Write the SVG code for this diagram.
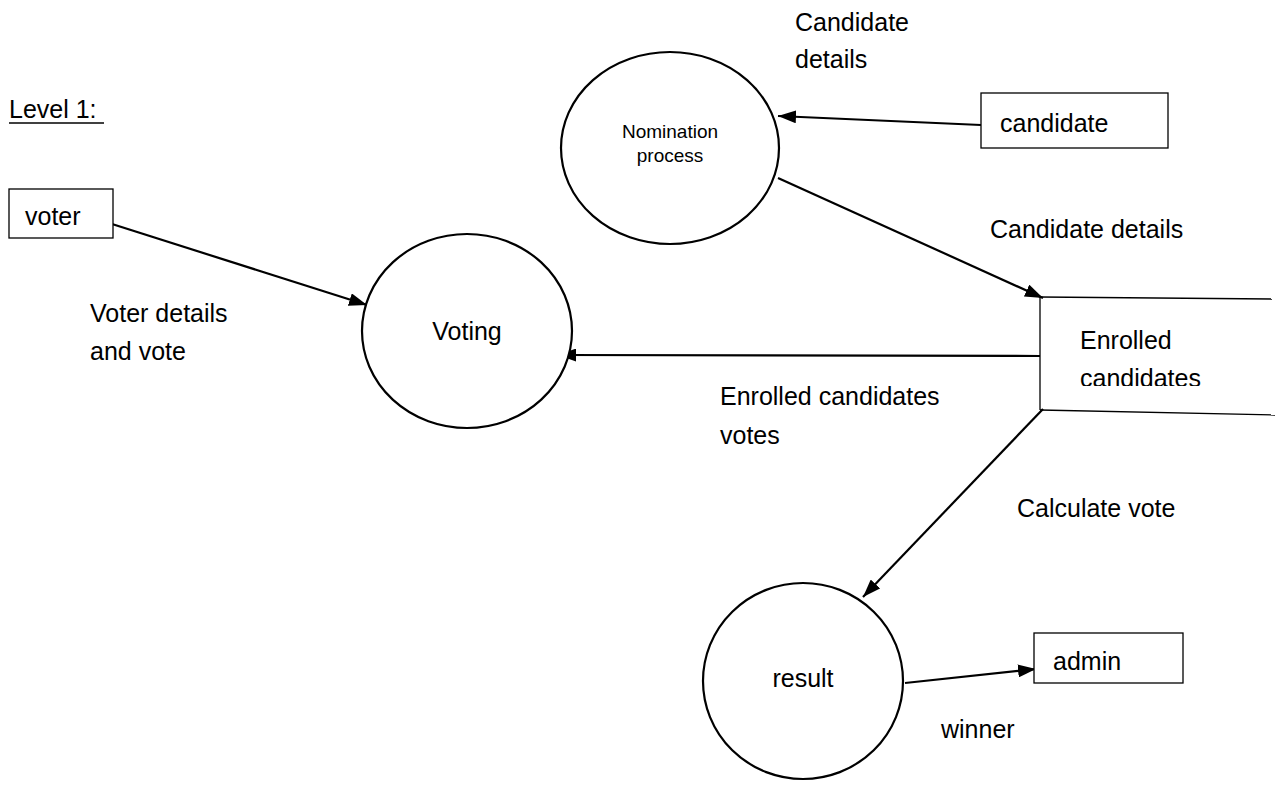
<svg xmlns="http://www.w3.org/2000/svg" width="1281" height="792" viewBox="0 0 1281 792">
<defs>
<marker id="arr" viewBox="0 0 18 13" refX="18" refY="6.5" markerWidth="18" markerHeight="13" markerUnits="userSpaceOnUse" orient="auto">
<path d="M0,0 L18,6.5 L0,13 Z" fill="#000"/>
</marker>
<clipPath id="storeclip"><rect x="1040" y="290" width="241" height="96"/></clipPath>
</defs>
<style>
text{font-family:"Liberation Sans",Arial,sans-serif;font-size:25px;fill:#000}
.small{font-size:19px}
.proc{fill:#fff;stroke:#000;stroke-width:2.2}
.ent{fill:#fff;stroke:#000;stroke-width:1.3}
.flow{fill:none;stroke:#000;stroke-width:2.2;marker-end:url(#arr)}
.store{fill:none;stroke:#000;stroke-width:1.3}
</style>
<rect width="1281" height="792" fill="#fff"/>

<g id="title">
<text x="9" y="118">Level 1:</text>
<line x1="9" y1="123" x2="104" y2="123" stroke="#000" stroke-width="1.6"/>
</g>

<g id="connectors">
<line class="flow" x1="981" y1="125" x2="778" y2="116"/>
<line class="flow" x1="778" y1="178" x2="1043" y2="298"/>
<line class="flow" x1="112" y1="224" x2="367" y2="305"/>
<line class="flow" x1="1040" y1="356" x2="558" y2="355"/>
<line class="flow" x1="1043" y1="409" x2="863" y2="597"/>
<line class="flow" x1="905" y1="683" x2="1036" y2="669"/>
</g>

<g id="labels">
<text x="795" y="31">Candidate</text>
<text x="795" y="68">details</text>
<text x="990" y="238">Candidate details</text>
<text x="90" y="322">Voter details</text>
<text x="90" y="360">and vote</text>
<text x="720" y="405">Enrolled candidates</text>
<text x="720" y="444">votes</text>
<text x="1017" y="517">Calculate vote</text>
<text x="941" y="738">winner</text>
</g>

<g id="nomination">
<ellipse class="proc" cx="670" cy="148" rx="109" ry="96"/>
<text class="small" x="670" y="138" text-anchor="middle">Nomination</text>
<text class="small" x="670" y="162" text-anchor="middle">process</text>
</g>

<g id="candidate">
<rect class="ent" x="981" y="93" width="187" height="55"/>
<text x="1000" y="132">candidate</text>
</g>

<g id="voter">
<rect class="ent" x="9" y="189" width="104" height="49"/>
<text x="25" y="225">voter</text>
</g>

<g id="voting">
<ellipse class="proc" cx="467" cy="331" rx="105" ry="97"/>
<text x="467" y="340" text-anchor="middle">Voting</text>
</g>

<g id="enrolled-store">
<line class="store" x1="1040" y1="297" x2="1272" y2="299"/>
<line class="store" x1="1040" y1="297" x2="1040" y2="410"/>
<line class="store" x1="1040" y1="410" x2="1275" y2="415"/>
<text x="1080" y="349">Enrolled</text>
<text x="1080" y="387" clip-path="url(#storeclip)">candidates</text>
</g>

<g id="result">
<ellipse class="proc" cx="803" cy="681" rx="100" ry="98"/>
<text x="803" y="687" text-anchor="middle">result</text>
</g>

<g id="admin">
<rect class="ent" x="1034" y="633" width="149" height="50"/>
<text x="1053" y="670">admin</text>
</g>
</svg>
